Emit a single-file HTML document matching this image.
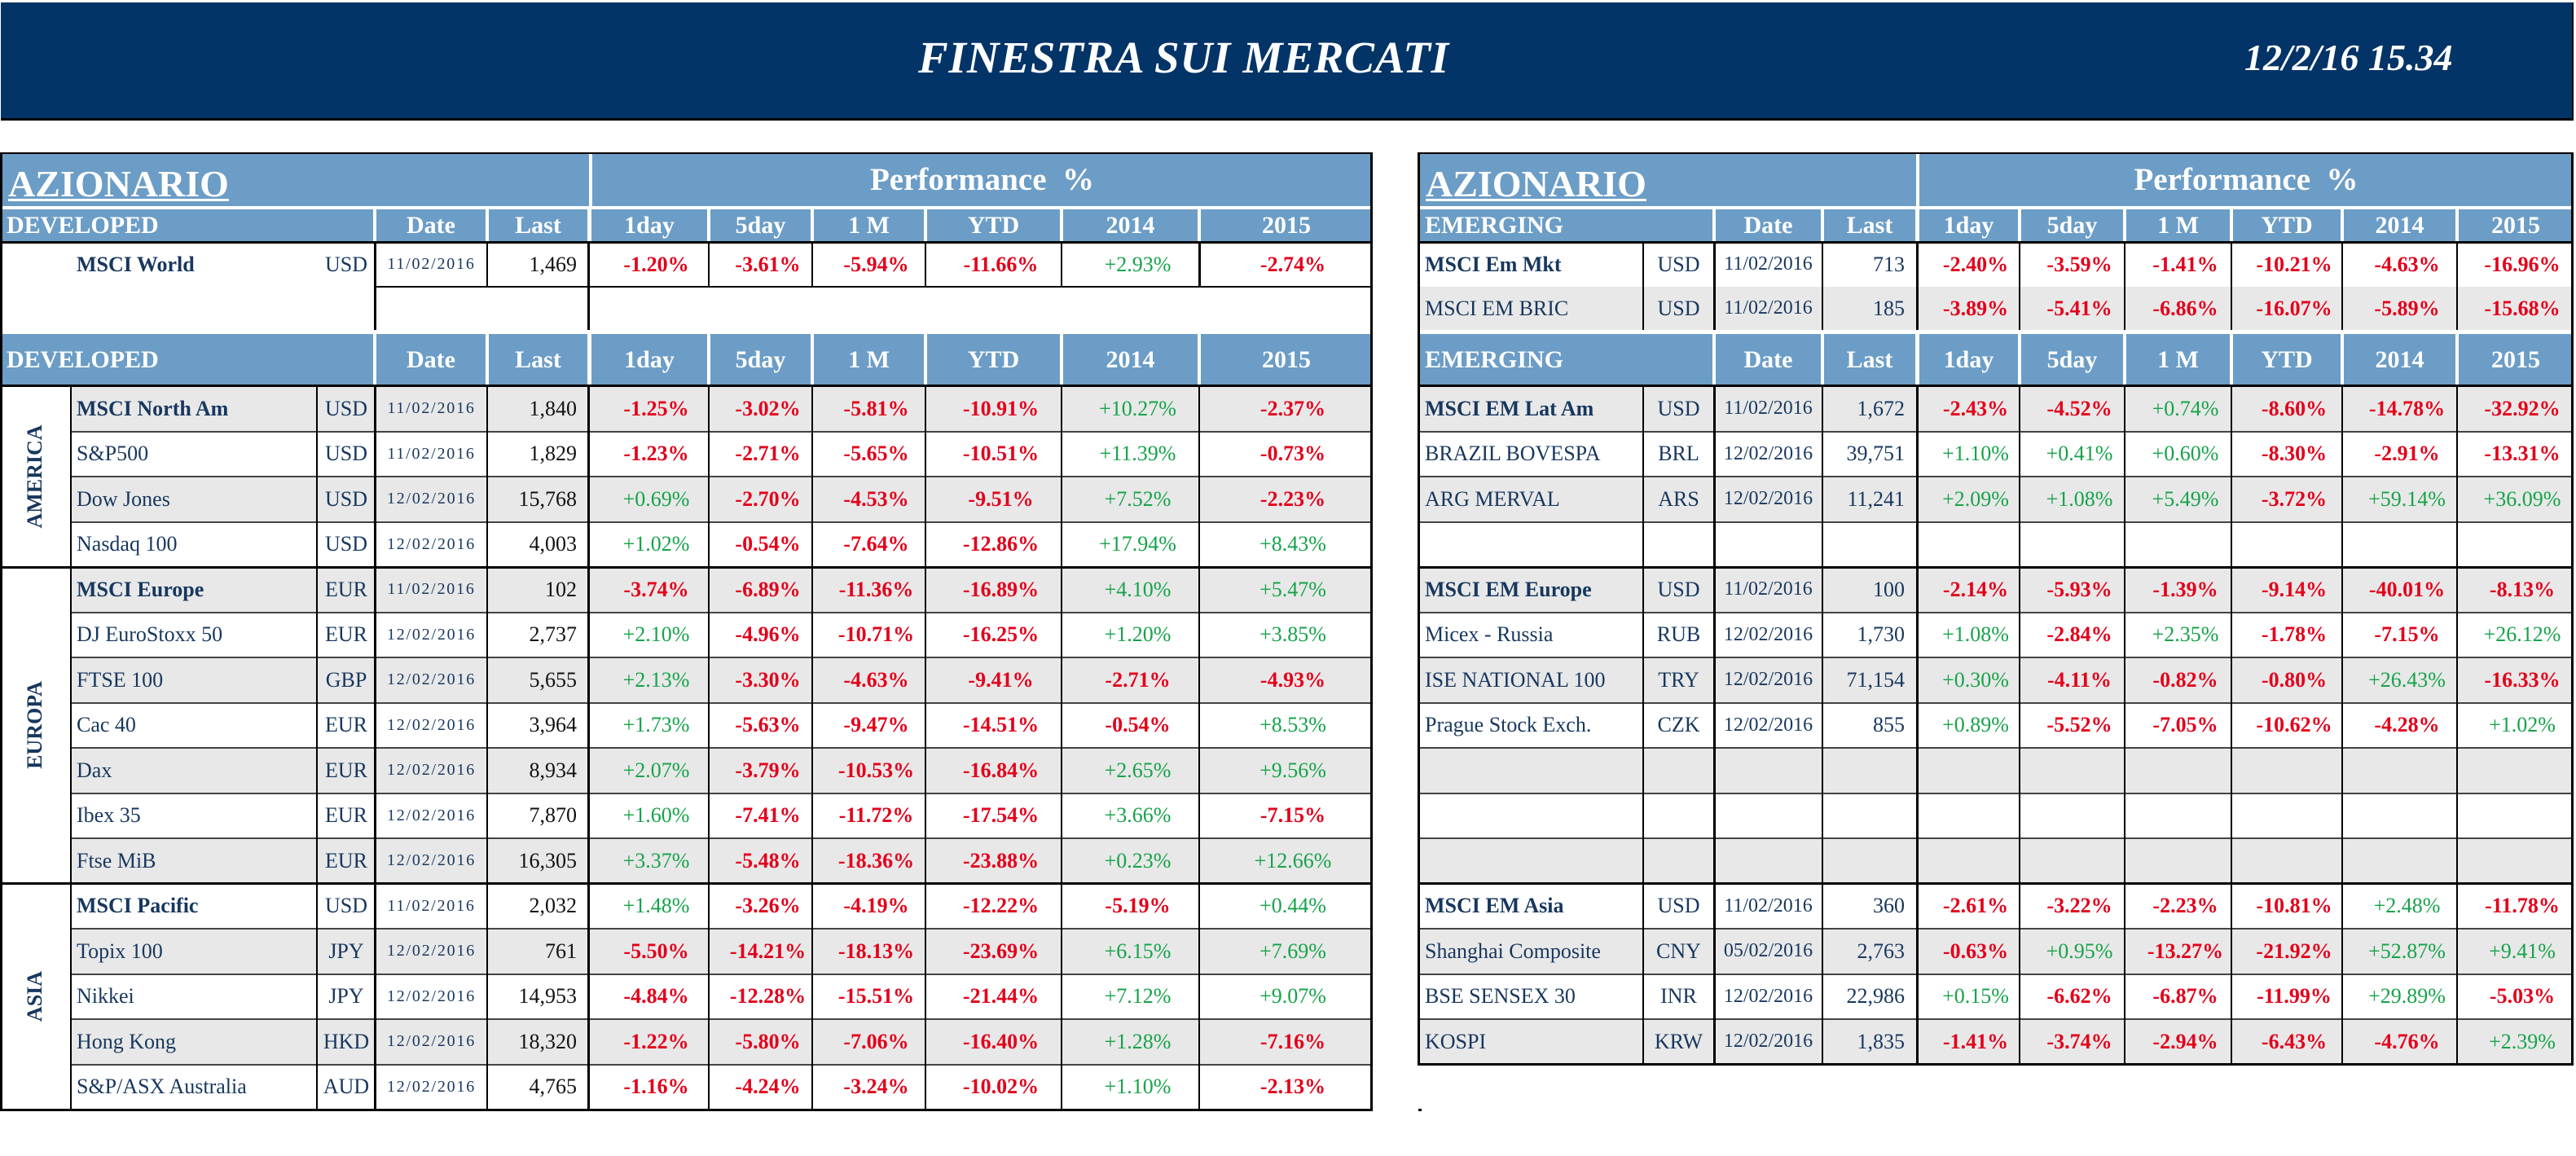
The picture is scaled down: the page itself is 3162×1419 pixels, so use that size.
<!DOCTYPE html>
<html><head><meta charset="utf-8">
<style>
*{margin:0;padding:0;box-sizing:border-box}
html,body{width:3162px;height:1419px;overflow:hidden;background:#fff}
body{position:relative;font-family:"Liberation Serif","DejaVu Serif",serif}
.a{position:absolute}
.tb{position:absolute;left:1px;top:3px;width:3158px;height:145px;background:#033467;border-bottom:3px solid #000;border-right:2px solid #000}
.h{position:absolute;background:#6C9DC6;color:#fff;font-weight:bold;font-size:30px;text-align:center;white-space:nowrap}
.h2{top:257px;height:40px;line-height:40px}
.h3{top:410px;height:64px;line-height:64px}
.h1{top:188px;height:65px}
.az{font-size:46px;text-align:left;padding-left:10px;padding-top:10px;line-height:55px}
.az span{text-decoration:underline;text-decoration-thickness:3px;text-underline-offset:3px}
.pf{font-size:39px;line-height:65px}
.tl{text-align:left;padding-left:8px}
.r{position:absolute;height:55.5px;display:grid;align-items:center;font-size:26px;color:#17375E;white-space:nowrap}
.L{left:87px;width:1597px;grid-template-columns:302px 72px 137px 125px 147px 127px 139px 167px 169px 212px}
.R{left:1741px;width:1417px;grid-template-columns:276px 87px 133px 116px 126px 129px 131px 136px 141px 142px}
.g{background:#E8E8E8}
.r span{display:block}
.n{padding-left:7px}
.R .n{padding-left:8px}
.b{font-weight:bold}
.c{text-align:center}
.d{text-align:center;font-size:20px;letter-spacing:1.8px}
.R .d{font-size:24px;letter-spacing:0}
.l{text-align:right;padding-right:15px;color:#111}
.R .l{color:#17375E}
.p{text-align:center;padding-left:18px}
.m{color:#E3001B;font-weight:bold}
.q{color:#16A34A}
.v{position:absolute;background:#000}
.s{position:absolute;background:#444;height:2px}
.rg{position:absolute;left:43px;font-weight:bold;font-size:26px;color:#17375E;transform:translate(-50%,-50%) rotate(-90deg);white-space:nowrap;line-height:1}
</style></head><body>

<div class="tb"></div>
<div class="a" style="left:1127px;top:41px;height:60px;line-height:60px;font-size:55px;font-style:italic;font-weight:bold;color:#fff;letter-spacing:0.8px;white-space:nowrap">FINESTRA SUI MERCATI</div>
<div class="a" style="left:2755px;top:46px;height:50px;line-height:50px;font-size:46px;font-style:italic;font-weight:bold;color:#fff;white-space:nowrap">12/2/16 15.34</div>

<!-- LEFT HEADERS -->
<div class="h h1 az" style="left:0;width:723px"><span>AZIONARIO</span></div>
<div class="h h1 pf" style="left:727px;width:957px">Performance&nbsp;&nbsp;%</div>

<div class="h h2 tl" style="left:0;width:458px">DEVELOPED</div>
<div class="h h2" style="left:462px;width:134px">Date</div>
<div class="h h2" style="left:600px;width:121px">Last</div>
<div class="h h2" style="left:726px;width:142px">1day</div>
<div class="h h2" style="left:872px;width:123px">5day</div>
<div class="h h2" style="left:999px;width:135px">1 M</div>
<div class="h h2" style="left:1138px;width:163px">YTD</div>
<div class="h h2" style="left:1305px;width:165px">2014</div>
<div class="h h2" style="left:1474px;width:210px">2015</div>

<div class="h h3 tl" style="left:0;width:458px">DEVELOPED</div>
<div class="h h3" style="left:462px;width:134px">Date</div>
<div class="h h3" style="left:600px;width:121px">Last</div>
<div class="h h3" style="left:726px;width:142px">1day</div>
<div class="h h3" style="left:872px;width:123px">5day</div>
<div class="h h3" style="left:999px;width:135px">1 M</div>
<div class="h h3" style="left:1138px;width:163px">YTD</div>
<div class="h h3" style="left:1305px;width:165px">2014</div>
<div class="h h3" style="left:1474px;width:210px">2015</div>

<!-- RIGHT HEADERS -->
<div class="h h1 az" style="left:1741px;width:611px;padding-left:9px"><span>AZIONARIO</span></div>
<div class="h h1 pf" style="left:2356px;width:802px">Performance&nbsp;&nbsp;%</div>

<div class="h h2 tl" style="left:1741px;width:361px">EMERGING</div>
<div class="h h2" style="left:2106px;width:129px">Date</div>
<div class="h h2" style="left:2239px;width:112px">Last</div>
<div class="h h2" style="left:2356px;width:121px">1day</div>
<div class="h h2" style="left:2481px;width:125px">5day</div>
<div class="h h2" style="left:2610px;width:127px">1 M</div>
<div class="h h2" style="left:2741px;width:132px">YTD</div>
<div class="h h2" style="left:2877px;width:137px">2014</div>
<div class="h h2" style="left:3018px;width:140px">2015</div>

<div class="h h3 tl" style="left:1741px;width:361px">EMERGING</div>
<div class="h h3" style="left:2106px;width:129px">Date</div>
<div class="h h3" style="left:2239px;width:112px">Last</div>
<div class="h h3" style="left:2356px;width:121px">1day</div>
<div class="h h3" style="left:2481px;width:125px">5day</div>
<div class="h h3" style="left:2610px;width:127px">1 M</div>
<div class="h h3" style="left:2741px;width:132px">YTD</div>
<div class="h h3" style="left:2877px;width:137px">2014</div>
<div class="h h3" style="left:3018px;width:140px">2015</div>

<!-- LEFT ROWS -->
<div class="r L" style="top:297px;height:55px"><span class="n b">MSCI World</span><span class="c">USD</span><span class="d">11/02/2016</span><span class="l">1,469</span><span class="p m">-1.20%</span><span class="p m">-3.61%</span><span class="p m">-5.94%</span><span class="p m">-11.66%</span><span class="p q">+2.93%</span><span class="p m">-2.74%</span></div>

<div class="r L g" style="top:474px"><span class="n b">MSCI North Am</span><span class="c">USD</span><span class="d">11/02/2016</span><span class="l">1,840</span><span class="p m">-1.25%</span><span class="p m">-3.02%</span><span class="p m">-5.81%</span><span class="p m">-10.91%</span><span class="p q">+10.27%</span><span class="p m">-2.37%</span></div>
<div class="r L" style="top:529.5px"><span class="n">S&amp;P500</span><span class="c">USD</span><span class="d">11/02/2016</span><span class="l">1,829</span><span class="p m">-1.23%</span><span class="p m">-2.71%</span><span class="p m">-5.65%</span><span class="p m">-10.51%</span><span class="p q">+11.39%</span><span class="p m">-0.73%</span></div>
<div class="r L g" style="top:585px"><span class="n">Dow Jones</span><span class="c">USD</span><span class="d">12/02/2016</span><span class="l">15,768</span><span class="p q">+0.69%</span><span class="p m">-2.70%</span><span class="p m">-4.53%</span><span class="p m">-9.51%</span><span class="p q">+7.52%</span><span class="p m">-2.23%</span></div>
<div class="r L" style="top:640.5px"><span class="n">Nasdaq 100</span><span class="c">USD</span><span class="d">12/02/2016</span><span class="l">4,003</span><span class="p q">+1.02%</span><span class="p m">-0.54%</span><span class="p m">-7.64%</span><span class="p m">-12.86%</span><span class="p q">+17.94%</span><span class="p q">+8.43%</span></div>

<div class="r L g" style="top:696px"><span class="n b">MSCI Europe</span><span class="c">EUR</span><span class="d">11/02/2016</span><span class="l">102</span><span class="p m">-3.74%</span><span class="p m">-6.89%</span><span class="p m">-11.36%</span><span class="p m">-16.89%</span><span class="p q">+4.10%</span><span class="p q">+5.47%</span></div>
<div class="r L" style="top:751.5px"><span class="n">DJ EuroStoxx 50</span><span class="c">EUR</span><span class="d">12/02/2016</span><span class="l">2,737</span><span class="p q">+2.10%</span><span class="p m">-4.96%</span><span class="p m">-10.71%</span><span class="p m">-16.25%</span><span class="p q">+1.20%</span><span class="p q">+3.85%</span></div>
<div class="r L g" style="top:807px"><span class="n">FTSE 100</span><span class="c">GBP</span><span class="d">12/02/2016</span><span class="l">5,655</span><span class="p q">+2.13%</span><span class="p m">-3.30%</span><span class="p m">-4.63%</span><span class="p m">-9.41%</span><span class="p m">-2.71%</span><span class="p m">-4.93%</span></div>
<div class="r L" style="top:862.5px"><span class="n">Cac 40</span><span class="c">EUR</span><span class="d">12/02/2016</span><span class="l">3,964</span><span class="p q">+1.73%</span><span class="p m">-5.63%</span><span class="p m">-9.47%</span><span class="p m">-14.51%</span><span class="p m">-0.54%</span><span class="p q">+8.53%</span></div>
<div class="r L g" style="top:918px"><span class="n">Dax</span><span class="c">EUR</span><span class="d">12/02/2016</span><span class="l">8,934</span><span class="p q">+2.07%</span><span class="p m">-3.79%</span><span class="p m">-10.53%</span><span class="p m">-16.84%</span><span class="p q">+2.65%</span><span class="p q">+9.56%</span></div>
<div class="r L" style="top:973.5px"><span class="n">Ibex 35</span><span class="c">EUR</span><span class="d">12/02/2016</span><span class="l">7,870</span><span class="p q">+1.60%</span><span class="p m">-7.41%</span><span class="p m">-11.72%</span><span class="p m">-17.54%</span><span class="p q">+3.66%</span><span class="p m">-7.15%</span></div>
<div class="r L g" style="top:1029px"><span class="n">Ftse MiB</span><span class="c">EUR</span><span class="d">12/02/2016</span><span class="l">16,305</span><span class="p q">+3.37%</span><span class="p m">-5.48%</span><span class="p m">-18.36%</span><span class="p m">-23.88%</span><span class="p q">+0.23%</span><span class="p q">+12.66%</span></div>

<div class="r L" style="top:1084.5px"><span class="n b">MSCI Pacific</span><span class="c">USD</span><span class="d">11/02/2016</span><span class="l">2,032</span><span class="p q">+1.48%</span><span class="p m">-3.26%</span><span class="p m">-4.19%</span><span class="p m">-12.22%</span><span class="p m">-5.19%</span><span class="p q">+0.44%</span></div>
<div class="r L g" style="top:1140px"><span class="n">Topix 100</span><span class="c">JPY</span><span class="d">12/02/2016</span><span class="l">761</span><span class="p m">-5.50%</span><span class="p m">-14.21%</span><span class="p m">-18.13%</span><span class="p m">-23.69%</span><span class="p q">+6.15%</span><span class="p q">+7.69%</span></div>
<div class="r L" style="top:1195.5px"><span class="n">Nikkei</span><span class="c">JPY</span><span class="d">12/02/2016</span><span class="l">14,953</span><span class="p m">-4.84%</span><span class="p m">-12.28%</span><span class="p m">-15.51%</span><span class="p m">-21.44%</span><span class="p q">+7.12%</span><span class="p q">+9.07%</span></div>
<div class="r L g" style="top:1251px"><span class="n">Hong Kong</span><span class="c">HKD</span><span class="d">12/02/2016</span><span class="l">18,320</span><span class="p m">-1.22%</span><span class="p m">-5.80%</span><span class="p m">-7.06%</span><span class="p m">-16.40%</span><span class="p q">+1.28%</span><span class="p m">-7.16%</span></div>
<div class="r L" style="top:1306.5px"><span class="n">S&amp;P/ASX Australia</span><span class="c">AUD</span><span class="d">12/02/2016</span><span class="l">4,765</span><span class="p m">-1.16%</span><span class="p m">-4.24%</span><span class="p m">-3.24%</span><span class="p m">-10.02%</span><span class="p q">+1.10%</span><span class="p m">-2.13%</span></div>

<div class="rg" style="top:585px">AMERICA</div>
<div class="rg" style="top:890px">EUROPA</div>
<div class="rg" style="top:1223px">ASIA</div>

<!-- RIGHT ROWS -->
<div class="r R" style="top:297px;height:55px"><span class="n b">MSCI Em Mkt</span><span class="c">USD</span><span class="d">11/02/2016</span><span class="l">713</span><span class="p m">-2.40%</span><span class="p m">-3.59%</span><span class="p m">-1.41%</span><span class="p m">-10.21%</span><span class="p m">-4.63%</span><span class="p m">-16.96%</span></div>
<div class="r R g" style="top:352px;height:53px"><span class="n">MSCI EM BRIC</span><span class="c">USD</span><span class="d">11/02/2016</span><span class="l">185</span><span class="p m">-3.89%</span><span class="p m">-5.41%</span><span class="p m">-6.86%</span><span class="p m">-16.07%</span><span class="p m">-5.89%</span><span class="p m">-15.68%</span></div>

<div class="r R g" style="top:474px"><span class="n b">MSCI EM Lat Am</span><span class="c">USD</span><span class="d">11/02/2016</span><span class="l">1,672</span><span class="p m">-2.43%</span><span class="p m">-4.52%</span><span class="p q">+0.74%</span><span class="p m">-8.60%</span><span class="p m">-14.78%</span><span class="p m">-32.92%</span></div>
<div class="r R" style="top:529.5px"><span class="n">BRAZIL BOVESPA</span><span class="c">BRL</span><span class="d">12/02/2016</span><span class="l">39,751</span><span class="p q">+1.10%</span><span class="p q">+0.41%</span><span class="p q">+0.60%</span><span class="p m">-8.30%</span><span class="p m">-2.91%</span><span class="p m">-13.31%</span></div>
<div class="r R g" style="top:585px"><span class="n">ARG MERVAL</span><span class="c">ARS</span><span class="d">12/02/2016</span><span class="l">11,241</span><span class="p q">+2.09%</span><span class="p q">+1.08%</span><span class="p q">+5.49%</span><span class="p m">-3.72%</span><span class="p q">+59.14%</span><span class="p q">+36.09%</span></div>

<div class="r R g" style="top:696px"><span class="n b">MSCI EM Europe</span><span class="c">USD</span><span class="d">11/02/2016</span><span class="l">100</span><span class="p m">-2.14%</span><span class="p m">-5.93%</span><span class="p m">-1.39%</span><span class="p m">-9.14%</span><span class="p m">-40.01%</span><span class="p m">-8.13%</span></div>
<div class="r R" style="top:751.5px"><span class="n">Micex - Russia</span><span class="c">RUB</span><span class="d">12/02/2016</span><span class="l">1,730</span><span class="p q">+1.08%</span><span class="p m">-2.84%</span><span class="p q">+2.35%</span><span class="p m">-1.78%</span><span class="p m">-7.15%</span><span class="p q">+26.12%</span></div>
<div class="r R g" style="top:807px"><span class="n">ISE NATIONAL 100</span><span class="c">TRY</span><span class="d">12/02/2016</span><span class="l">71,154</span><span class="p q">+0.30%</span><span class="p m">-4.11%</span><span class="p m">-0.82%</span><span class="p m">-0.80%</span><span class="p q">+26.43%</span><span class="p m">-16.33%</span></div>
<div class="r R" style="top:862.5px"><span class="n">Prague Stock Exch.</span><span class="c">CZK</span><span class="d">12/02/2016</span><span class="l">855</span><span class="p q">+0.89%</span><span class="p m">-5.52%</span><span class="p m">-7.05%</span><span class="p m">-10.62%</span><span class="p m">-4.28%</span><span class="p q">+1.02%</span></div>
<div class="r R g" style="top:918px"></div>
<div class="r R g" style="top:1029px"></div>

<div class="r R" style="top:1084.5px"><span class="n b">MSCI EM Asia</span><span class="c">USD</span><span class="d">11/02/2016</span><span class="l">360</span><span class="p m">-2.61%</span><span class="p m">-3.22%</span><span class="p m">-2.23%</span><span class="p m">-10.81%</span><span class="p q">+2.48%</span><span class="p m">-11.78%</span></div>
<div class="r R g" style="top:1140px"><span class="n">Shanghai Composite</span><span class="c">CNY</span><span class="d">05/02/2016</span><span class="l">2,763</span><span class="p m">-0.63%</span><span class="p q">+0.95%</span><span class="p m">-13.27%</span><span class="p m">-21.92%</span><span class="p q">+52.87%</span><span class="p q">+9.41%</span></div>
<div class="r R" style="top:1195.5px"><span class="n">BSE SENSEX 30</span><span class="c">INR</span><span class="d">12/02/2016</span><span class="l">22,986</span><span class="p q">+0.15%</span><span class="p m">-6.62%</span><span class="p m">-6.87%</span><span class="p m">-11.99%</span><span class="p q">+29.89%</span><span class="p m">-5.03%</span></div>
<div class="r R g" style="top:1251px"><span class="n">KOSPI</span><span class="c">KRW</span><span class="d">12/02/2016</span><span class="l">1,835</span><span class="p m">-1.41%</span><span class="p m">-3.74%</span><span class="p m">-2.94%</span><span class="p m">-6.43%</span><span class="p m">-4.76%</span><span class="p q">+2.39%</span></div>

<!-- LEFT LINES -->
<div class="v" style="left:0;top:187px;width:1685px;height:2px"></div>
<div class="v" style="left:0;top:296px;width:1685px;height:3px"></div>
<div class="v" style="left:459px;top:351px;width:1226px;height:2px"></div>
<div class="v" style="left:0;top:472px;width:1685px;height:3px"></div>
<div class="v" style="left:0;top:694.5px;width:1685px;height:3px"></div>
<div class="v" style="left:0;top:1083px;width:1685px;height:3px"></div>
<div class="v" style="left:0;top:1360.5px;width:1685px;height:3px"></div>

<div class="s" style="left:87px;width:1597px;top:528.5px"></div>
<div class="s" style="left:87px;width:1597px;top:584px"></div>
<div class="s" style="left:87px;width:1597px;top:639.5px"></div>
<div class="s" style="left:87px;width:1597px;top:750.5px"></div>
<div class="s" style="left:87px;width:1597px;top:806px"></div>
<div class="s" style="left:87px;width:1597px;top:861.5px"></div>
<div class="s" style="left:87px;width:1597px;top:917px"></div>
<div class="s" style="left:87px;width:1597px;top:972.5px"></div>
<div class="s" style="left:87px;width:1597px;top:1028px"></div>
<div class="s" style="left:87px;width:1597px;top:1139px"></div>
<div class="s" style="left:87px;width:1597px;top:1194.5px"></div>
<div class="s" style="left:87px;width:1597px;top:1250px"></div>
<div class="s" style="left:87px;width:1597px;top:1305.5px"></div>

<div class="v" style="left:0;top:188px;width:3px;height:1176px"></div>
<div class="v" style="left:1682px;top:188px;width:3px;height:1176px"></div>
<div class="v" style="left:86px;top:474px;width:2px;height:888px"></div>
<div class="v" style="left:388px;top:474px;width:2px;height:888px"></div>
<div class="v" style="left:459px;top:474px;width:3px;height:888px"></div>
<div class="v" style="left:597px;top:474px;width:2px;height:888px"></div>
<div class="v" style="left:721px;top:474px;width:3px;height:888px"></div>
<div class="v" style="left:869px;top:474px;width:2px;height:888px"></div>
<div class="v" style="left:996px;top:474px;width:2px;height:888px"></div>
<div class="v" style="left:1135px;top:474px;width:2px;height:888px"></div>
<div class="v" style="left:1302px;top:474px;width:2px;height:888px"></div>
<div class="v" style="left:1471px;top:474px;width:2px;height:888px"></div>

<div class="v" style="left:459px;top:297px;width:3px;height:108px"></div>
<div class="v" style="left:721px;top:297px;width:3px;height:108px"></div>
<div class="v" style="left:597px;top:297px;width:2px;height:55px"></div>
<div class="v" style="left:869px;top:297px;width:2px;height:55px"></div>
<div class="v" style="left:996px;top:297px;width:2px;height:55px"></div>
<div class="v" style="left:1135px;top:297px;width:2px;height:55px"></div>
<div class="v" style="left:1302px;top:297px;width:2px;height:55px"></div>
<div class="v" style="left:1471px;top:297px;width:3px;height:55px"></div>

<!-- RIGHT LINES -->
<div class="v" style="left:1740px;top:187px;width:1419px;height:2px"></div>
<div class="v" style="left:1740px;top:296px;width:1419px;height:3px"></div>
<div class="v" style="left:1740px;top:472px;width:1419px;height:3px"></div>
<div class="v" style="left:1740px;top:694.5px;width:1419px;height:3px"></div>
<div class="v" style="left:1740px;top:1083px;width:1419px;height:3px"></div>
<div class="v" style="left:1740px;top:1305px;width:1419px;height:3px"></div>

<div class="s" style="left:1741px;width:1417px;top:528.5px"></div>
<div class="s" style="left:1741px;width:1417px;top:584px"></div>
<div class="s" style="left:1741px;width:1417px;top:639.5px"></div>
<div class="s" style="left:1741px;width:1417px;top:750.5px"></div>
<div class="s" style="left:1741px;width:1417px;top:806px"></div>
<div class="s" style="left:1741px;width:1417px;top:861.5px"></div>
<div class="s" style="left:1741px;width:1417px;top:917px"></div>
<div class="s" style="left:1741px;width:1417px;top:972.5px"></div>
<div class="s" style="left:1741px;width:1417px;top:1028px"></div>
<div class="s" style="left:1741px;width:1417px;top:1139px"></div>
<div class="s" style="left:1741px;width:1417px;top:1194.5px"></div>
<div class="s" style="left:1741px;width:1417px;top:1249.5px"></div>

<div class="v" style="left:1740px;top:188px;width:3px;height:1120px"></div>
<div class="v" style="left:3156px;top:188px;width:3px;height:1120px"></div>
<div class="v" style="left:2016px;top:297px;width:2px;height:108px"></div>
<div class="v" style="left:2103px;top:297px;width:3px;height:108px"></div>
<div class="v" style="left:2236px;top:297px;width:2px;height:108px"></div>
<div class="v" style="left:2352px;top:297px;width:3px;height:108px"></div>
<div class="v" style="left:2478px;top:297px;width:2px;height:108px"></div>
<div class="v" style="left:2607px;top:297px;width:2px;height:108px"></div>
<div class="v" style="left:2738px;top:297px;width:2px;height:108px"></div>
<div class="v" style="left:2874px;top:297px;width:2px;height:108px"></div>
<div class="v" style="left:3015px;top:297px;width:2px;height:108px"></div>

<div class="v" style="left:2016px;top:474px;width:2px;height:833px"></div>
<div class="v" style="left:2103px;top:474px;width:3px;height:833px"></div>
<div class="v" style="left:2236px;top:474px;width:2px;height:833px"></div>
<div class="v" style="left:2352px;top:474px;width:3px;height:833px"></div>
<div class="v" style="left:2478px;top:474px;width:2px;height:833px"></div>
<div class="v" style="left:2607px;top:474px;width:2px;height:833px"></div>
<div class="v" style="left:2738px;top:474px;width:2px;height:833px"></div>
<div class="v" style="left:2874px;top:474px;width:2px;height:833px"></div>
<div class="v" style="left:3015px;top:474px;width:2px;height:833px"></div>

<div class="v" style="left:1741px;top:1361px;width:4px;height:3px"></div>

</body></html>
